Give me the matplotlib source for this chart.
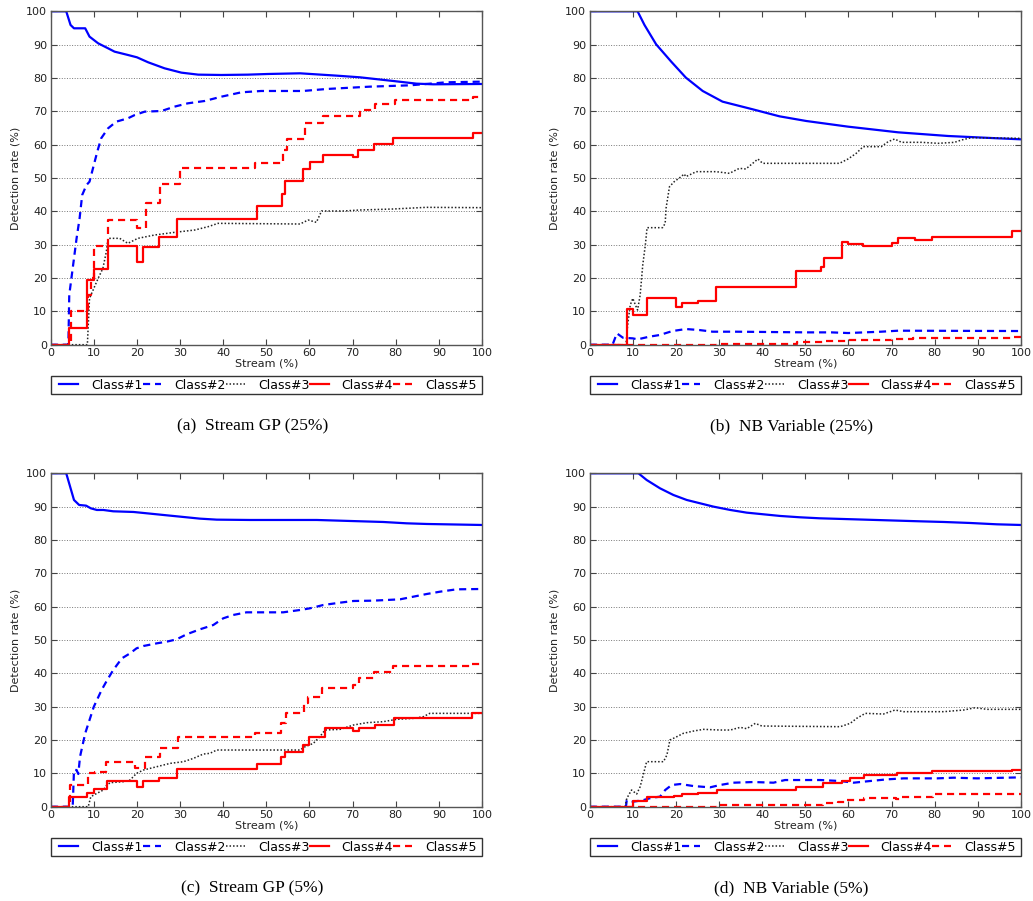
import matplotlib
matplotlib.use("Agg")
import matplotlib.pyplot as plt
from matplotlib.patches import Rectangle

# detection rate vs stream position, 4 runs x 5 classes
# class 4 and 5 are step curves (steps-post), others are plain lines

# ---- (a) Stream GP (25%)
a1_x = [0, 3.6, 4.6, 5.4, 8.0, 9.0, 11, 13.3, 14.8, 17.9, 20, 22.6, 26.4, 30.3, 34.2, 39.6, 45.7, 50.4, 57.8, 66.3, 71.7, 79.4, 84.8, 88.7, 100]
a1_y = [100, 100, 95.9, 94.9, 94.9, 92.4, 90.4, 88.9, 87.9, 86.9, 86.2, 84.7, 82.9, 81.6, 81, 80.9, 81, 81.2, 81.4, 80.7, 80.2, 79.1, 78.3, 78.1, 78.2]
a2_x = [0, 4.1, 4.3, 6.0, 6.7, 7.3, 8.3, 9.0, 10.8, 11.7, 13.3, 15.2, 17.9, 19.5, 21.8, 25.7, 28.7, 31.8, 35.7, 39.6, 44.2, 48.8, 58.5, 64, 74, 83.3, 91.7, 100]
a2_y = [0, 0, 14.9, 31.9, 37.9, 44.9, 47.9, 48.9, 57.9, 61.9, 64.9, 66.9, 67.9, 68.9, 69.9, 70.1, 71.4, 72.4, 73.1, 74.4, 75.7, 76.1, 76.1, 76.7, 77.4, 77.8, 78.7, 78.9]
a3_x = [0, 8.5, 9.0, 11, 12.1, 12.9, 13.3, 16, 17.9, 20.2, 24.1, 28.7, 33.4, 36.5, 38.8, 57.8, 59.7, 61.6, 62.8, 67.8, 71.7, 79.4, 87.1, 100]
a3_y = [0, 0, 13.9, 19.9, 22.9, 27.9, 31.9, 31.9, 30.4, 31.9, 32.9, 33.7, 34.4, 35.4, 36.4, 36.2, 37.4, 36.7, 40.1, 40.1, 40.4, 40.7, 41.2, 41.1]
a4_x = [0, 4.2, 8.5, 10.0, 13.3, 19.9, 21.4, 25.1, 29.3, 47.9, 53.6, 54.3, 58.5, 60.1, 63.2, 70.1, 71.3, 75.0, 79.4, 97.8, 100]
a4_y = [0, 4.9, 19.4, 22.6, 29.6, 24.9, 29.4, 32.4, 37.7, 41.7, 45.2, 49.1, 52.6, 54.7, 56.9, 56.4, 58.5, 60.1, 61.9, 63.6, 63.6]
a5_x = [0, 4.8, 8.7, 9.3, 10.0, 13.3, 19.9, 22.0, 25.3, 29.9, 47.3, 53.9, 54.7, 58.9, 63.2, 71.7, 75.2, 79.8, 98, 100]
a5_y = [0, 10.1, 15, 20, 29.6, 37.4, 34.9, 42.4, 48.2, 52.9, 54.4, 58.4, 61.6, 66.4, 68.6, 70.4, 72.1, 73.4, 74.3, 74.3]

# ---- (b) NB Variable (25%)
b1_x = [0, 11.1, 12.7, 15.4, 18.9, 22.3, 26.2, 30.8, 37.8, 44.0, 50.2, 59.9, 71.5, 83.1, 94.7, 100]
b1_y = [100, 100, 95.9, 90.1, 84.9, 80.1, 76.1, 72.9, 70.6, 68.5, 67.1, 65.4, 63.7, 62.6, 61.9, 61.6]
b2_x = [0, 5.3, 6.3, 7.7, 10, 11.1, 13.8, 16.2, 19.2, 22.3, 25.4, 28.5, 33.9, 50.2, 56, 59.9, 67.6, 71.5, 100]
b2_y = [0, 0, 3.4, 2.1, 1.9, 1.6, 2.4, 2.9, 4.1, 4.7, 4.4, 3.9, 3.9, 3.7, 3.7, 3.5, 3.9, 4.2, 4.1]
b3_x = [0, 8.4, 8.8, 9.4, 10, 10.6, 11.1, 11.7, 12.3, 12.9, 13.3, 16.9, 17.5, 17.7, 18.5, 19.6, 21.2, 21.9, 22.3, 24.7, 29.3, 32.4, 34.7, 36.2, 37.8, 39, 40.1, 57.9, 59.9, 61.8, 63.4, 67.6, 69.2, 70.7, 72.3, 76.9, 80.8, 84.6, 86.2, 88.5, 100]
b3_y = [0, 0, 5.9, 11.9, 13.9, 11.9, 10.4, 14.9, 23.9, 29.9, 35.1, 35.1, 36.4, 40.9, 47.4, 48.9, 50.4, 51.2, 50.4, 51.9, 51.9, 51.4, 52.9, 52.7, 54.4, 55.7, 54.4, 54.4, 55.7, 57.4, 59.4, 59.4, 60.9, 61.7, 60.7, 60.7, 60.4, 60.7, 61.4, 62.1, 61.9]
b4_x = [0, 8.6, 10.0, 13.3, 20.0, 21.4, 25.0, 29.3, 47.8, 53.6, 54.4, 58.6, 59.9, 63.4, 70.0, 71.5, 75.4, 79.3, 97.8, 100]
b4_y = [0, 10.7, 8.9, 13.9, 11.4, 12.4, 13.1, 17.4, 22.2, 23.4, 26.1, 30.7, 30.1, 29.7, 30.4, 31.9, 31.3, 32.4, 34.1, 34.1]
b5_x = [0, 29.5, 48, 54, 60, 70, 75, 80, 98, 100]
b5_y = [0, 0.3, 0.7, 1.2, 1.5, 1.7, 1.9, 2.1, 2.4, 2.4]

# ---- (c) Stream GP (5%)
c1_x = [0, 3.6, 4.5, 5.4, 6.6, 8.2, 9.3, 10.7, 12.2, 14.5, 19.2, 22.3, 26.9, 30, 34.6, 38.5, 46.2, 61.7, 69.4, 77.1, 82.5, 87.2, 100]
c1_y = [100, 100, 96, 92, 90.5, 90.3, 89.5, 89, 89, 88.6, 88.4, 88, 87.4, 87, 86.4, 86.1, 86, 86, 85.7, 85.4, 85, 84.8, 84.5]
c2_x = [0, 5.1, 5.4, 6.0, 6.4, 6.8, 8, 10, 11.8, 13.1, 14.5, 16.5, 18.4, 19.9, 21.5, 24.6, 26.9, 29.2, 31.5, 34.6, 37.7, 40, 42.3, 45.4, 53.9, 57.8, 60.1, 63.2, 67.1, 70.2, 74.8, 81, 84.1, 87.2, 90.3, 94.1, 100]
c2_y = [0, 0, 11, 11, 9.8, 15, 22, 30, 35, 38, 41, 44.5, 46, 47.5, 48.2, 49, 49.5, 50.2, 51.7, 53.2, 54.5, 56.5, 57.5, 58.3, 58.3, 59, 59.5, 60.5, 61.2, 61.7, 61.8, 62.2, 63, 63.8, 64.5, 65.2, 65.3]
c3_x = [0, 8.7, 9.3, 10.7, 12.2, 13, 13.8, 16.8, 18.4, 19.9, 21.5, 24.6, 27.7, 30.8, 33.1, 35.4, 36.9, 38.5, 57.8, 59, 60.9, 62.4, 63.6, 67.1, 70.2, 73.3, 77.1, 80.2, 84.1, 86.4, 87.9, 100]
c3_y = [0, 0, 3, 4, 5, 6.5, 7.2, 7.5, 8, 10, 11, 12, 13, 13.5, 14.5, 15.8, 16, 17, 17, 18, 19, 21, 23, 23.2, 24.5, 25.2, 25.5, 26.2, 26.5, 27, 28, 28]
c4_x = [0, 4.2, 8.4, 10.0, 13.1, 19.9, 21.3, 25.0, 29.3, 47.9, 53.5, 54.3, 58.6, 60.0, 63.5, 70.1, 71.5, 75.2, 79.5, 97.7, 100]
c4_y = [0, 3.0, 4.2, 5.2, 7.7, 6.0, 7.8, 8.7, 11.2, 12.7, 15, 16.5, 18.5, 21, 23.5, 22.7, 23.7, 24.5, 26.5, 28, 28]
c5_x = [0, 4.5, 8.6, 10.3, 12.9, 19.6, 21.8, 25.3, 29.5, 47.3, 53.4, 54.6, 58.8, 59.7, 62.9, 70.2, 71.5, 75.0, 79.3, 97.7, 100]
c5_y = [0, 6.5, 10, 10.5, 13.3, 11.5, 15, 17.5, 20.8, 22.2, 25, 28, 31, 33, 35.5, 36.5, 38.5, 40.5, 42.2, 42.8, 42.8]

# ---- (d) NB Variable (5%)
d1_x = [0, 11.3, 13.2, 16.3, 19.4, 22.5, 25.6, 28.7, 32.6, 36.4, 40.3, 44.2, 48.8, 53.4, 61.2, 68.9, 76.6, 82.1, 88.2, 94.4, 100]
d1_y = [100, 100, 98, 95.5, 93.5, 92, 91, 90, 89, 88.2, 87.7, 87.2, 86.8, 86.5, 86.2, 85.9, 85.6, 85.4, 85.1, 84.7, 84.5]
d2_x = [0, 8.4, 8.6, 10.1, 12.5, 14.4, 16.3, 17.5, 19, 21, 24, 27.9, 30.2, 33.3, 38, 42.6, 45.3, 53.4, 58.1, 61.2, 65, 68.9, 72.8, 80.5, 84.4, 89.8, 100]
d2_y = [0, 0, 2, 1.5, 2, 2.7, 3, 5, 6.5, 6.8, 6.2, 5.8, 6.5, 7.2, 7.4, 7.2, 8, 8, 7.7, 7.2, 7.7, 8.2, 8.5, 8.5, 8.7, 8.5, 8.8]
d3_x = [0, 8.2, 8.6, 9.7, 10.9, 11.7, 12.5, 13.2, 17.1, 17.9, 18.6, 20.2, 21.7, 24.1, 26.4, 30.2, 32.6, 34.9, 36.4, 38.4, 39.9, 58.1, 60.4, 61.9, 63.9, 68.1, 70.8, 72.8, 82.1, 86.7, 89.4, 92.1, 100]
d3_y = [0, 0, 2.5, 5, 3.8, 6, 10, 13.5, 13.5, 15.5, 20, 21, 22, 22.7, 23.2, 23, 23, 23.8, 23.4, 25, 24.2, 24, 25, 26.5, 28, 27.8, 29, 28.5, 28.5, 29, 29.7, 29.2, 29.2]
d4_x = [0, 10, 13.2, 19.5, 21.3, 25, 29.5, 47.9, 54, 58.5, 60.3, 63.7, 71.2, 75.5, 79.4, 98, 100]
d4_y = [0, 1.7, 2.8, 3.2, 3.7, 4.2, 5, 6, 7, 7.8, 8.5, 9.5, 10.2, 10, 10.7, 11, 11]
d5_x = [0, 29.5, 54, 57.5, 59.5, 63.5, 71, 72.5, 79.5, 100]
d5_y = [0, 0.6, 1.0, 1.5, 2.0, 2.5, 2.3, 2.8, 3.8, 3.8]

labels = ["Class#1", "Class#2", "Class#3", "Class#4", "Class#5"]
captions = ["(a)  Stream GP (25%)", "(b)  NB Variable (25%)",
            "(c)  Stream GP (5%)", "(d)  NB Variable (5%)"]

panels = [
    [(a1_x, a1_y), (a2_x, a2_y), (a3_x, a3_y), (a4_x, a4_y), (a5_x, a5_y)],
    [(b1_x, b1_y), (b2_x, b2_y), (b3_x, b3_y), (b4_x, b4_y), (b5_x, b5_y)],
    [(c1_x, c1_y), (c2_x, c2_y), (c3_x, c3_y), (c4_x, c4_y), (c5_x, c5_y)],
    [(d1_x, d1_y), (d2_x, d2_y), (d3_x, d3_y), (d4_x, d4_y), (d5_x, d5_y)],
]

styles = [
    dict(color="#0000ff", ls="-", lw=1.6),
    dict(color="#0000ff", ls=(0, (3.2, 2.2)), lw=1.6),
    dict(color="#222222", ls=(0, (1, 1.3)), lw=1.1),
    dict(color="#ff0000", ls="-", lw=1.6, drawstyle="steps-post"),
    dict(color="#ff0000", ls=(0, (3.2, 2.2)), lw=1.6, drawstyle="steps-post"),
]

fig = plt.figure(figsize=(10.33, 9.01), dpi=100)
W, H = 1033.0, 901.0
rects = [
    [50.7 / W, (H - 344.7) / H, 431.3 / W, 333.4 / H],
    [589.7 / W, (H - 344.7) / H, 431.3 / W, 333.4 / H],
    [50.7 / W, (H - 806.7) / H, 431.3 / W, 333.4 / H],
    [589.7 / W, (H - 806.7) / H, 431.3 / W, 333.4 / H],
]

for rect, series, cap in zip(rects, panels, captions):
    ax = fig.add_axes(rect)
    for (x, y), st, lab in zip(series, styles, labels):
        ax.plot(x, y, label=lab, **st)
    ax.set_xlim(0, 100)
    ax.set_ylim(0, 100)
    ax.set_xticks(range(0, 101, 10))
    ax.set_yticks(range(0, 101, 10))
    ax.yaxis.grid(True, ls=":", color="#777777", lw=0.7)
    ax.tick_params(direction="in", top=True, right=True, length=4,
                   labelsize=8, pad=2.5, color="#444444", labelcolor="#222222")
    for sp in ax.spines.values():
        sp.set_color("#555555")
        sp.set_linewidth(1.0)
    ax.set_xlabel("Stream (%)", fontsize=8, labelpad=0.5, color="#222222")
    ax.set_ylabel("Detection rate (%)", fontsize=8, labelpad=4, color="#222222")

    # legend box under the axes, frame drawn separately so the entries get some inset
    ax.add_patch(Rectangle((0, -0.149), 1, 0.056, transform=ax.transAxes,
                           fill=False, edgecolor="#333333", lw=1.0, clip_on=False))
    ax.legend(loc="center", bbox_to_anchor=(0.019, -0.121, 0.969, 0), mode="expand",
              ncol=5, borderaxespad=0, fontsize=9, handlelength=1.5,
              handletextpad=1.05, columnspacing=0.2, borderpad=0,
              frameon=False)
    ax.text(0.4675, -0.244, cap, transform=ax.transAxes, ha="center", va="center",
            fontsize=12.5, family="Liberation Serif")

fig.savefig("out.png", dpi=100)
